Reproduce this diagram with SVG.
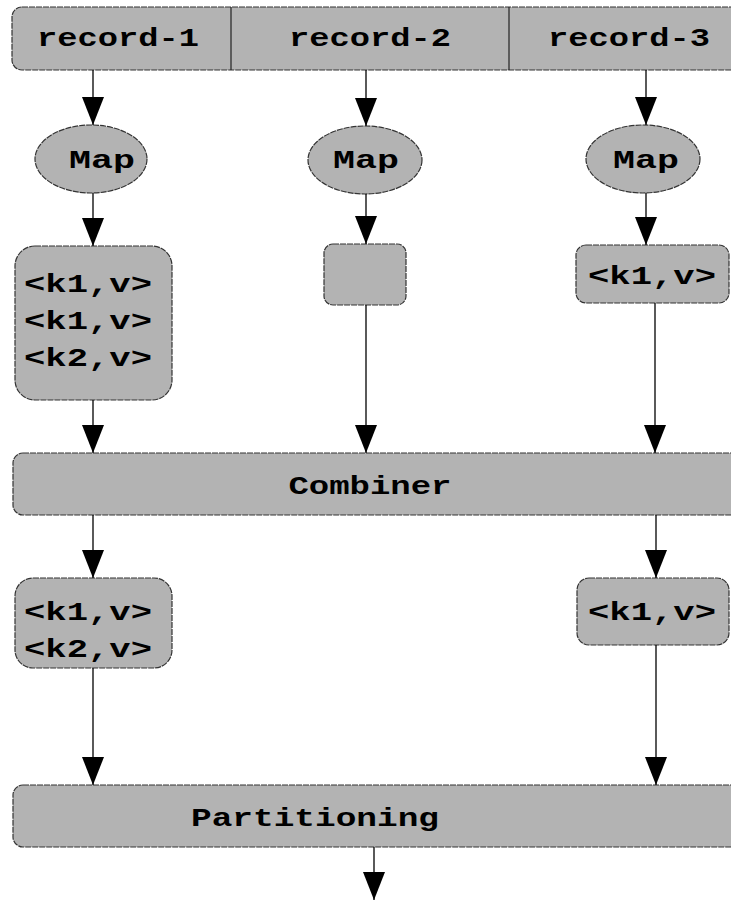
<svg xmlns="http://www.w3.org/2000/svg" width="731" height="901" viewBox="0 0 731 901">
<style>
.box{fill:#b3b3b3;stroke:#333;stroke-width:1.2;stroke-dasharray:6 1}
.div{stroke:#222;stroke-width:1.2}
.t{font-family:"Liberation Mono","Courier New",monospace;font-weight:bold;font-size:25px;fill:#000;text-anchor:middle}
.c{stroke:#000;stroke-width:1.3;fill:none;marker-end:url(#ah)}
</style>
<defs>
<marker id="ah" markerUnits="userSpaceOnUse" markerWidth="28" markerHeight="22" viewBox="0 0 28 22" refX="28" refY="11" orient="auto">
<path d="M0,0 L28,11 L0,22 z" fill="#000"/>
</marker>
</defs>
<g id="records">
<rect class="box" x="12" y="7" width="740" height="63" rx="10"/>
<line class="div" x1="231" y1="7" x2="231" y2="70"/>
<line class="div" x1="509" y1="7" x2="509" y2="70"/>
<text class="t" x="118" y="46" textLength="162" lengthAdjust="spacingAndGlyphs">record-1</text>
<text class="t" x="370" y="46" textLength="162" lengthAdjust="spacingAndGlyphs">record-2</text>
<text class="t" x="629" y="46" textLength="162" lengthAdjust="spacingAndGlyphs">record-3</text>
</g>
<g id="map1">
<ellipse class="box" cx="91" cy="159" rx="56" ry="34"/>
<text class="t" x="102" y="168" textLength="66" lengthAdjust="spacingAndGlyphs">Map</text>
</g>
<g id="map2">
<ellipse class="box" cx="365" cy="160" rx="57" ry="34"/>
<text class="t" x="366" y="168" textLength="66" lengthAdjust="spacingAndGlyphs">Map</text>
</g>
<g id="map3">
<ellipse class="box" cx="643" cy="159" rx="57" ry="34"/>
<text class="t" x="646" y="168" textLength="66" lengthAdjust="spacingAndGlyphs">Map</text>
</g>
<g id="out1">
<rect class="box" x="15" y="246" width="157" height="154" rx="20"/>
<text class="t" x="88" y="292" textLength="128" lengthAdjust="spacingAndGlyphs">&lt;k1,v&gt;</text>
<text class="t" x="88" y="329" textLength="128" lengthAdjust="spacingAndGlyphs">&lt;k1,v&gt;</text>
<text class="t" x="88" y="366" textLength="128" lengthAdjust="spacingAndGlyphs">&lt;k2,v&gt;</text>
</g>
<g id="out2">
<rect class="box" x="324" y="244" width="82" height="61" rx="9"/>
</g>
<g id="out3">
<rect class="box" x="576" y="245" width="153" height="58" rx="10"/>
<text class="t" x="652" y="284" textLength="128" lengthAdjust="spacingAndGlyphs">&lt;k1,v&gt;</text>
</g>
<g id="combiner">
<rect class="box" x="13" y="453" width="740" height="62" rx="10"/>
<text class="t" x="370" y="494" textLength="163" lengthAdjust="spacingAndGlyphs">Combiner</text>
</g>
<g id="comb1">
<rect class="box" x="15" y="578" width="157" height="90" rx="18"/>
<text class="t" x="88" y="620" textLength="128" lengthAdjust="spacingAndGlyphs">&lt;k1,v&gt;</text>
<text class="t" x="88" y="657" textLength="128" lengthAdjust="spacingAndGlyphs">&lt;k2,v&gt;</text>
</g>
<g id="comb3">
<rect class="box" x="577" y="578" width="152" height="67" rx="12"/>
<text class="t" x="652" y="620" textLength="128" lengthAdjust="spacingAndGlyphs">&lt;k1,v&gt;</text>
</g>
<g id="partitioning">
<rect class="box" x="13" y="785" width="740" height="62" rx="10"/>
<text class="t" x="315" y="826" textLength="248" lengthAdjust="spacingAndGlyphs">Partitioning</text>
</g>
<g id="connectors">
<line class="c" x1="93" y1="70" x2="93" y2="125"/>
<line class="c" x1="366" y1="70" x2="366" y2="126"/>
<line class="c" x1="646" y1="70" x2="646" y2="125"/>
<line class="c" x1="93" y1="193" x2="93" y2="246"/>
<line class="c" x1="366" y1="194" x2="366" y2="244"/>
<line class="c" x1="646" y1="193" x2="646" y2="245"/>
<line class="c" x1="93" y1="400" x2="93" y2="453"/>
<line class="c" x1="366" y1="305" x2="366" y2="453"/>
<line class="c" x1="655" y1="303" x2="655" y2="453"/>
<line class="c" x1="93" y1="515" x2="93" y2="578"/>
<line class="c" x1="656" y1="515" x2="656" y2="578"/>
<line class="c" x1="93" y1="668" x2="93" y2="785"/>
<line class="c" x1="656" y1="645" x2="656" y2="785"/>
<line class="c" x1="374" y1="847" x2="374" y2="900"/>
</g>
</svg>
